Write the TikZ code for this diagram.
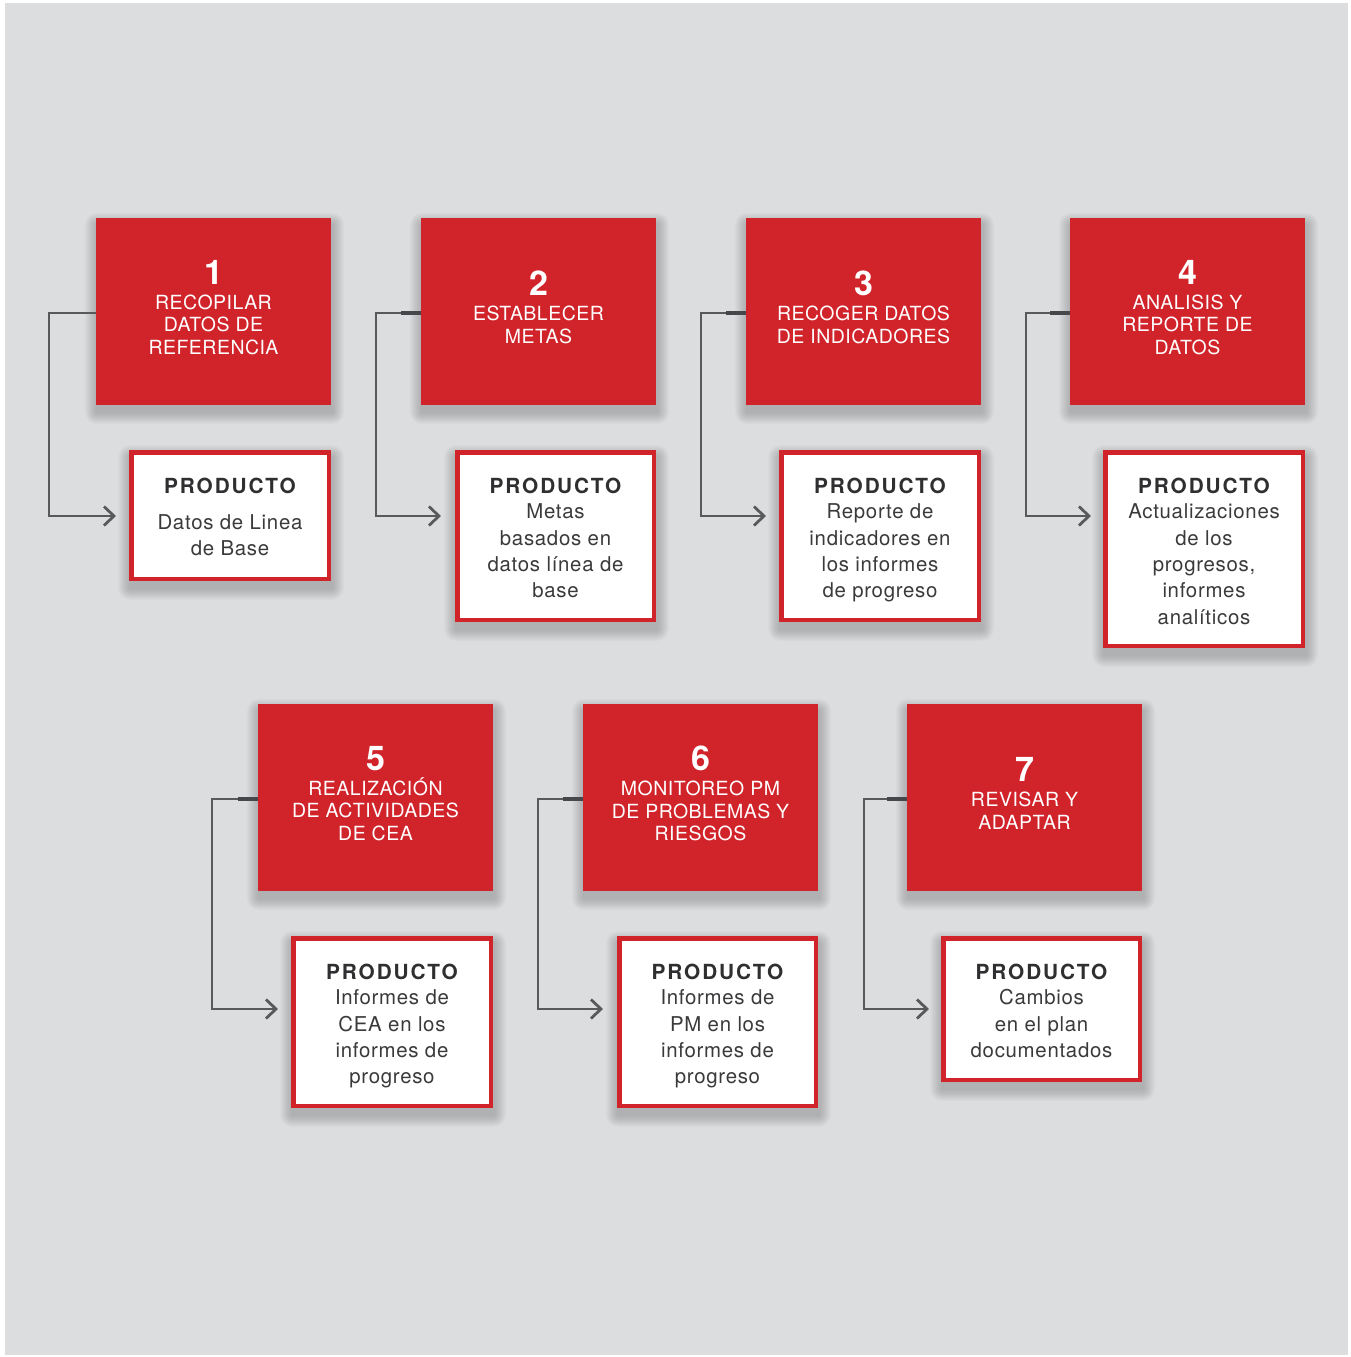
\documentclass[tikz,border=0pt]{standalone}
\usepackage{fontspec}
\setmainfont{TeX Gyre Heros}
\newfontfamily\redfont[LetterSpace=2.5]{TeX Gyre Heros}
\newfontfamily\bodyfont[LetterSpace=3.5]{TeX Gyre Heros}
\newfontfamily\prodfont[LetterSpace=9]{TeX Gyre Heros}
\usetikzlibrary{arrows.meta,calc}
\definecolor{bgray}{HTML}{DCDDDF}
\definecolor{boxred}{HTML}{D1232A}
\definecolor{txtgray}{HTML}{3A3A3C}
\definecolor{headgray}{HTML}{2F2F31}
\definecolor{linegray}{HTML}{58595B}
\definecolor{stubgray}{HTML}{46474A}
\pgfdeclarelayer{bglayer}
\pgfdeclarelayer{shadowlayer}
\pgfsetlayers{bglayer,shadowlayer,main}
\newcommand{\myshadow}[1]{%
  \begin{pgfonlayer}{shadowlayer}
    \foreach \sr in {1,2,...,12}{
      \fill[black,opacity=0.016,rounded corners=\sr pt] ($(#1.north west)+(1-\sr,7-\sr)$) rectangle ($(#1.south east)+(1+\sr,7+\sr)$);
    }
  \end{pgfonlayer}}
\newcommand{\stepnum}[1]{{\fontsize{34}{34}\selectfont\bfseries #1}}
\newcommand{\prodhead}{{\prodfont\color{headgray}\fontsize{20.8}{26.3}\selectfont\bfseries PRODUCTO}}
\tikzset{
  redbox/.style={fill=boxred, draw=none, inner sep=0pt, minimum width=235pt, minimum height=187pt},
  prodbox/.style={fill=white, draw=boxred, line width=4.5pt, inner sep=0pt},
  redtxt/.style={text=white, align=center, inner sep=0pt, font=\redfont\fontsize{19.5}{22.5}\selectfont},
  prodtxt/.style={text=txtgray, align=center, inner sep=0pt, anchor=north, font=\bodyfont\fontsize{20.4}{26.3}\selectfont},
  conn/.style={draw=linegray, line width=2.8pt, -{Straight Barb[length=10pt,width=19pt]}},
  stub/.style={draw=stubgray, line width=4.2pt},
}
\begin{document}
\begin{tikzpicture}[x=1pt,y=-1pt]
\useasboundingbox (0,0) rectangle (1350,1357);
\begin{pgfonlayer}{bglayer}
  \fill[white] (0,0) rectangle (1350,1357);
  \fill[bgray] (5,3) rectangle (1348,1355);
\end{pgfonlayer}

% red step boxes
\node[redbox] (r1) at (213.5,311.5) {};
\node[redbox] (r2) at (538.5,311.5) {};
\node[redbox] (r3) at (863.5,311.5) {};
\node[redbox] (r4) at (1187.5,311.5) {};
\node[redbox] (r5) at (375.5,797.5) {};
\node[redbox] (r6) at (700.5,797.5) {};
\node[redbox] (r7) at (1024.5,797.5) {};

% product boxes
\node[prodbox, minimum width=197.5pt, minimum height=126.5pt] (p1) at (230,515.5) {};
\node[prodbox, minimum width=196.5pt, minimum height=167.5pt] (p2) at (555.5,536) {};
\node[prodbox, minimum width=197.5pt, minimum height=167.5pt] (p3) at (880,536) {};
\node[prodbox, minimum width=197.5pt, minimum height=193.5pt] (p4) at (1204,549) {};
\node[prodbox, minimum width=197.5pt, minimum height=167.5pt] (p5) at (392,1022) {};
\node[prodbox, minimum width=196.5pt, minimum height=167.5pt] (p6) at (717.5,1022) {};
\node[prodbox, minimum width=196.5pt, minimum height=141.5pt] (p7) at (1041.5,1009) {};

\foreach \n in {r1,r2,r3,r4,r5,r6,r7,p1,p2,p3,p4,p5,p6,p7}{\myshadow{\n}}

% red box texts
\node[redtxt] (t1) at ([yshift=4pt]r1.center) {\stepnum{1}\\[2.5pt]RECOPILAR\\DATOS DE\\REFERENCIA};
\node[redtxt] (t2) at ([yshift=4pt]r2.center) {\stepnum{2}\\[2.5pt]ESTABLECER\\METAS};
\node[redtxt] (t3) at ([yshift=4pt]r3.center) {\stepnum{3}\\[2.5pt]RECOGER DATOS\\DE INDICADORES};
\node[redtxt] (t4) at ([yshift=4pt]r4.center) {\stepnum{4}\\[2.5pt]ANALISIS Y\\REPORTE DE\\DATOS};
\node[redtxt] (t5) at ([yshift=4pt]r5.center) {\stepnum{5}\\[2.5pt]REALIZACIÓN\\DE ACTIVIDADES\\DE CEA};
\node[redtxt] (t6) at ([yshift=4pt]r6.center) {\stepnum{6}\\[2.5pt]MONITOREO PM\\DE PROBLEMAS Y\\RIESGOS};
\node[redtxt] (t7) at ([yshift=4pt]r7.center) {\stepnum{7}\\[2.5pt]REVISAR Y\\ADAPTAR};

% product texts
\node[prodtxt] (q1) at ($(p1.north)+(0,28.3)$) {\prodhead\\[9.4pt]Datos de Linea\\de Base};
\node[prodtxt] (q2) at ($(p2.north)+(0,28.3)$) {\prodhead\\[-1.3pt]Metas\\basados en\\datos línea de\\base};
\node[prodtxt] (q3) at ($(p3.north)+(0,28.3)$) {\prodhead\\[-1.3pt]Reporte de\\indicadores en\\los informes\\de progreso};
\node[prodtxt] (q4) at ($(p4.north)+(0,28.3)$) {\prodhead\\[-1.3pt]Actualizaciones\\de los\\progresos,\\informes\\analíticos};
\node[prodtxt] (q5) at ($(p5.north)+(0,28.3)$) {\prodhead\\[-1.3pt]Informes de\\CEA en los\\informes de\\progreso};
\node[prodtxt] (q6) at ($(p6.north)+(0,28.3)$) {\prodhead\\[-1.3pt]Informes de\\PM en los\\informes de\\progreso};
\node[prodtxt] (q7) at ($(p7.north)+(0,28.3)$) {\prodhead\\[-1.3pt]Cambios\\en el plan\\documentados};

% connector corners and arrow ends
\coordinate (k1) at (49,516);   \coordinate (a1) at (116,516);
\coordinate (k2) at (376,516);  \coordinate (a2) at (441,516);
\coordinate (k3) at (701,516);  \coordinate (a3) at (766,516);
\coordinate (k4) at (1026,516); \coordinate (a4) at (1091,516);
\coordinate (k5) at (212,1009); \coordinate (a5) at (278,1009);
\coordinate (k6) at (538,1009); \coordinate (a6) at (603,1009);
\coordinate (k7) at (864,1009); \coordinate (a7) at (929,1009);

\foreach \i in {1,...,7}{
  \draw[conn, line join=miter] ([yshift=-1.5pt]r\i.west) -| (k\i) -- (a\i);
}
\foreach \i in {2,...,7}{
  \draw[stub] ([yshift=-1.5pt]r\i.west) -- ++(-20,0);
}
\end{tikzpicture}
\end{document}
